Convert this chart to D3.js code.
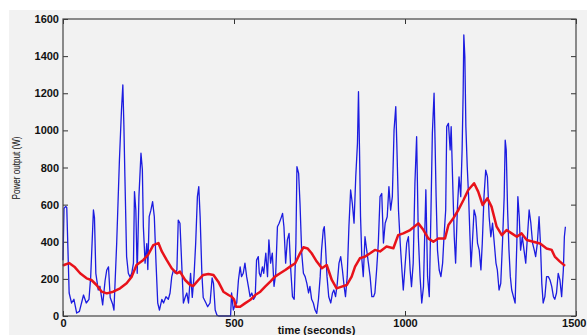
<!DOCTYPE html>
<html><head><meta charset="utf-8">
<script src="https://cdn.jsdelivr.net/npm/d3@7"></script>
<style>
html,body{margin:0;padding:0;background:#fff;}
svg{display:block;}
.tick text{font-family:"Liberation Sans",Arial,sans-serif;font-weight:bold;font-size:11px;fill:#111;}
</style>
</head><body>
<script>
// ---- data ----
const xTicks = [0, 500, 1000, 1500];
const yTicks = [0, 200, 400, 600, 800, 1000, 1200, 1400, 1600];
const xLabel = "time (seconds)";
const yLabel = "Power output (W)";

const powerTime = [0,3,8,11,18,25,32,40,48,60,68,76,81,89,92,96,103,108,116,123,128,133,138,145,149,157,165,171,175,178,181,186,191,196,201,206,209,213,217,222,228,232,235,240,245,248,252,257,262,267,272,277,282,289,294,301,308,313,318,323,328,333,337,342,347,352,357,362,367,373,378,383,388,393,397,401,406,410,418,423,430,436,440,445,450,455,490,493,498,503,508,513,518,522,527,532,537,542,547,552,557,562,566,571,574,578,583,587,593,598,602,607,612,617,622,627,632,638,642,646,651,656,661,666,671,676,681,684,689,693,698,703,708,713,718,722,727,732,737,742,747,752,756,761,764,767,772,777,783,788,792,797,802,807,812,817,822,826,831,836,841,846,851,856,861,864,867,870,874,878,883,888,893,898,903,908,912,917,922,927,932,937,942,948,953,958,963,968,973,976,981,986,991,995,1000,1005,1010,1015,1019,1024,1029,1034,1039,1044,1049,1054,1058,1061,1066,1071,1076,1080,1085,1088,1091,1095,1100,1105,1110,1114,1119,1122,1127,1132,1135,1139,1144,1148,1153,1158,1163,1167,1170,1172,1175,1178,1182,1186,1190,1193,1197,1202,1207,1212,1217,1222,1226,1231,1236,1241,1246,1251,1256,1261,1266,1270,1275,1280,1285,1290,1293,1296,1300,1304,1308,1312,1317,1322,1327,1330,1334,1338,1343,1348,1353,1358,1363,1368,1373,1378,1382,1387,1392,1396,1400,1404,1409,1414,1419,1424,1429,1434,1438,1443,1448,1453,1458,1463,1466,1469];
const powerValue = [300,580,590,585,124,70,90,16,25,113,70,90,212,571,530,230,140,160,60,190,248,265,100,65,32,393,840,1110,1245,1030,750,320,230,210,230,285,670,570,230,643,877,790,480,285,390,250,535,570,616,535,285,70,32,90,70,104,90,124,212,248,230,248,517,500,285,70,100,124,70,230,100,212,393,643,697,535,230,100,70,50,70,205,176,32,5,0,0,124,32,60,70,194,265,212,230,285,212,160,104,124,90,104,302,320,230,212,265,230,339,212,410,285,339,160,230,481,500,530,553,481,285,410,445,248,104,90,393,804,768,606,339,230,212,176,124,160,90,70,32,14,90,212,355,463,481,393,212,104,70,124,140,104,176,285,320,248,160,104,212,481,679,606,500,750,930,1208,895,535,302,212,427,355,285,212,104,104,124,248,393,643,660,393,500,535,697,570,643,1002,1128,930,570,393,248,140,265,393,427,248,158,285,715,966,427,212,70,158,463,680,212,104,571,984,1200,930,643,355,248,212,285,427,571,1020,1038,895,1020,750,427,285,571,750,643,895,1200,1514,1397,1020,804,643,427,265,393,571,535,393,355,248,393,643,786,750,535,427,500,393,285,248,140,176,393,643,948,895,571,355,212,140,104,70,393,643,535,355,427,355,285,427,571,500,393,355,320,393,535,393,176,70,104,212,212,194,160,104,90,124,230,194,104,248,427,481];

const avgTime = [0,3,18,35,50,69,83,98,113,128,147,167,186,201,215,235,249,264,279,289,303,318,333,342,357,372,381,396,410,425,440,454,469,484,493,500,506,518,532,547,562,577,591,606,620,635,650,664,679,693,703,715,727,742,757,771,786,800,815,830,844,854,868,883,898,912,927,946,966,980,995,1015,1039,1054,1068,1083,1097,1117,1127,1141,1156,1171,1185,1202,1214,1227,1241,1253,1268,1283,1297,1312,1327,1341,1356,1375,1395,1414,1429,1438,1453,1468];
const avgValue = [270,275,285,262,230,203,194,167,131,122,131,149,176,212,275,302,330,382,393,348,302,257,230,239,194,167,162,194,221,226,221,185,131,113,104,90,50,50,68,86,113,131,158,185,212,230,248,266,284,338,370,364,338,293,257,275,194,149,158,167,212,266,311,320,338,356,348,374,365,436,445,463,499,463,418,400,418,418,490,526,571,625,679,715,670,598,634,589,481,436,463,445,427,445,409,400,391,364,356,320,293,270];

// ---- layout ----
const W = 587, H = 335;
const L = 63, R = 576, T = 19, B = 316;

const svg = d3.select("body").append("svg").attr("width", W).attr("height", H);
svg.append("rect").attr("x", 9).attr("y", 10).attr("width", W - 9).attr("height", H - 10).attr("fill", "#f2f2f2");

const x = d3.scaleLinear().domain([0, 1500]).range([L, R]);
const y = d3.scaleLinear().domain([0, 1600]).range([B, T]);
const fmt = d3.format("d");

// axes
const gL = svg.append("g").attr("transform", `translate(${L},0)`)
  .call(d3.axisLeft(y).tickValues(yTicks).tickFormat(fmt).tickSizeInner(-5).tickSizeOuter(0).tickPadding(4));
const gB = svg.append("g").attr("transform", `translate(0,${B})`)
  .call(d3.axisBottom(x).tickValues(xTicks).tickFormat(fmt).tickSizeInner(-5).tickSizeOuter(0).tickPadding(3));
const gT = svg.append("g").attr("transform", `translate(0,${T})`)
  .call(d3.axisTop(x).tickValues(xTicks).tickSizeInner(-5).tickSizeOuter(0).tickFormat(""));
const gR = svg.append("g").attr("transform", `translate(${R},0)`)
  .call(d3.axisRight(y).tickValues(yTicks).tickSizeInner(-5).tickSizeOuter(0).tickFormat(""));
[gL, gB, gT, gR].forEach(g => {
  g.select(".domain").remove();
  g.selectAll(".tick line").attr("stroke", "#333").attr("stroke-width", 1);
});
// keep the last x tick label inside the window
gB.selectAll(".tick text").filter(d => d === 1500).attr("text-anchor", "end").attr("dx", 10);

// lines
const line = d3.line().x(d => x(d[0])).y(d => y(d[1]));
const blue = powerTime.map((t, i) => [t, powerValue[i]]);
const red = avgTime.map((t, i) => [t, avgValue[i]]);

svg.append("path").datum(blue).attr("d", line).attr("fill", "none")
  .attr("stroke", "#1c1ce0").attr("stroke-width", 1.3).attr("stroke-linejoin", "round");
svg.append("path").datum(red).attr("d", line).attr("fill", "none")
  .attr("stroke", "#e8121a").attr("stroke-width", 2.5).attr("stroke-linejoin", "round");

// box
svg.append("rect").attr("x", L).attr("y", T).attr("width", R - L).attr("height", B - T)
  .attr("fill", "none").attr("stroke", "#444").attr("stroke-width", 1.2);

// labels
svg.append("text").attr("x", (L + R) / 2 - 3).attr("y", 333.5).attr("text-anchor", "middle")
  .attr("font-family", "Liberation Sans, Arial, sans-serif").attr("font-weight", "bold")
  .attr("font-size", 11).attr("fill", "#111").text(xLabel);
svg.append("text").attr("transform", "translate(20,168) rotate(-90)").attr("text-anchor", "middle")
  .attr("font-family", "Liberation Sans Narrow, Liberation Sans, Arial, sans-serif")
  .attr("font-size", 10).attr("fill", "#111")
  .attr("textLength", 63).attr("lengthAdjust", "spacingAndGlyphs").text(yLabel);
</script>
</body></html>
